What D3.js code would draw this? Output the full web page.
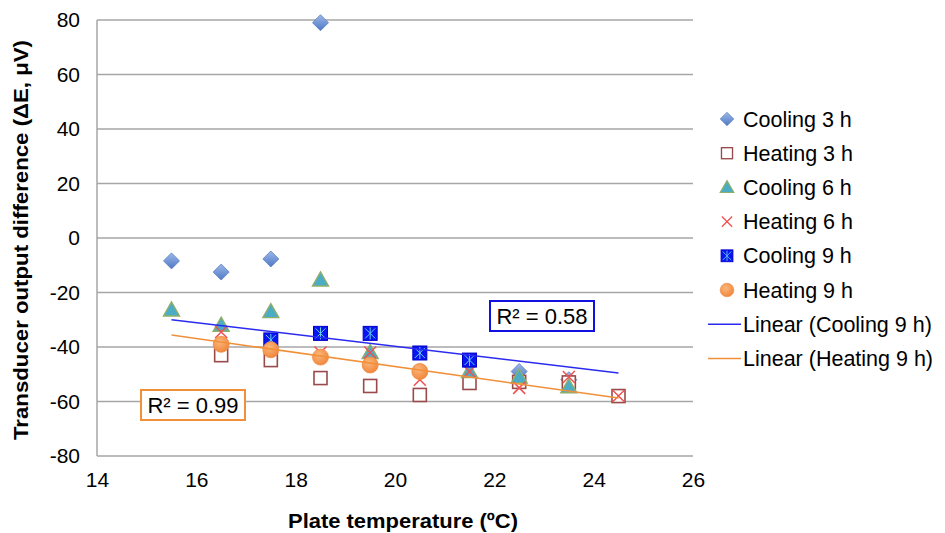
<!DOCTYPE html>
<html><head><meta charset="utf-8">
<script src="https://cdn.jsdelivr.net/npm/d3@7/dist/d3.min.js"></script>
<style>body{margin:0;background:#fff}svg{display:block}</style>
</head><body>
<script>
// ---- data ----
const xTicks = [14,16,18,20,22,24,26];
const yTicks = [80,60,40,20,0,-20,-40,-60,-80];
const cooling3 = [[15.5,-8.4],[16.5,-12.5],[17.5,-7.7],[18.5,79],[22.5,-49],[23.5,-52]];
const heating3 = [[16.5,-43],[17.5,-44.8],[18.5,-51.4],[19.5,-54.3],[20.5,-57.6],[21.5,-53.2],[22.5,-52.8],[23.5,-53],[24.5,-58]];
const cooling6 = [[15.5,-26.4],[16.5,-32],[17.5,-27],[18.5,-15.4],[19.5,-42],[21.5,-49],[22.5,-51],[23.5,-54.6]];
const heating6 = [[16.5,-34.5],[17.5,-38],[18.5,-42],[19.5,-42],[20.5,-52],[21.5,-49],[22.5,-55],[23.5,-51],[24.5,-58]];
const cooling9 = [[17.5,-37.4],[18.5,-35],[19.5,-35],[20.5,-42.2],[21.5,-44.8]];
const heating9 = [[16.5,-39],[17.5,-41],[18.5,-43.7],[19.5,-46.6],[20.5,-49]];
// trend lines: start and end points
const trendCooling9 = [[15.5,-30],[24.5,-49.5]];
const trendHeating9 = [[15.5,-35.6],[24.5,-58.7]];
const r2Labels = ["R² = 0.58","R² = 0.99"];
const legendNames = ["Cooling 3 h","Heating 3 h","Cooling 6 h","Heating 6 h","Cooling 9 h","Heating 9 h","Linear (Cooling 9 h)","Linear (Heating 9 h)"];

const W=945,H=533;
const svg=d3.select("body").append("svg").attr("width",W).attr("height",H);
const defs=svg.append("defs");
const g1=defs.append("linearGradient").attr("id","dia").attr("x1",0).attr("y1",0).attr("x2",0).attr("y2",1);
g1.append("stop").attr("offset","0").attr("stop-color","#9cb8ea");
g1.append("stop").attr("offset","1").attr("stop-color","#4f78c4");
const g2=defs.append("radialGradient").attr("id","circ").attr("cx","0.4").attr("cy","0.35").attr("r","0.7");
g2.append("stop").attr("offset","0").attr("stop-color","#fbb77a");
g2.append("stop").attr("offset","1").attr("stop-color","#f0843a");

const x=d3.scaleLinear().domain([14,26]).range([97,693]);
const y=d3.scaleLinear().domain([-80,80]).range([456,20]);

// gridlines
svg.append("g").selectAll("line").data(yTicks).join("line")
  .attr("x1",x(14)).attr("x2",x(26)).attr("y1",d=>y(d)).attr("y2",d=>y(d))
  .attr("stroke","#a6a6a6").attr("stroke-width",1.5);
svg.append("line").attr("x1",x(14)).attr("x2",x(14)).attr("y1",y(80)).attr("y2",y(-80))
  .attr("stroke","#a6a6a6").attr("stroke-width",1.5);

const font="'Liberation Sans', Arial, sans-serif";
const fmt=d=>String(d);
const yAxis=d3.axisLeft(y).tickValues(yTicks).tickSize(0).tickPadding(17).tickFormat(fmt);
const ya=svg.append("g").attr("transform",`translate(${x(14)},0)`).call(yAxis);
ya.select(".domain").remove();
ya.selectAll("text").attr("font-family",font).attr("font-size",21).attr("fill","#000");
const xAxis=d3.axisBottom(x).tickValues(xTicks).tickSize(0).tickPadding(16).tickFormat(fmt);
const xa=svg.append("g").attr("transform",`translate(0,${y(-80)})`).call(xAxis);
xa.select(".domain").remove();
xa.selectAll("text").attr("font-family",font).attr("font-size",21).attr("fill","#000");

svg.append("text").attr("x",x(20)+8).attr("y",528).attr("text-anchor","middle")
  .attr("font-family",font).attr("font-size",21).attr("font-weight","bold")
  .attr("textLength",230).attr("lengthAdjust","spacingAndGlyphs").text("Plate temperature (ºC)");
svg.append("text").attr("transform",`translate(28,240) rotate(-90)`).attr("text-anchor","middle")
  .attr("font-family",font).attr("font-size",21).attr("font-weight","bold")
  .attr("textLength",400).attr("lengthAdjust","spacingAndGlyphs").text("Transducer output difference (ΔE, μV)");

// marker draw functions
function diamond(sel){sel.append("path").attr("d","M0,-8L8,0L0,8L-8,0Z").attr("fill","url(#dia)").attr("stroke","#5a7fc0").attr("stroke-width",0.8);}
function square(sel){sel.append("rect").attr("x",-6.5).attr("y",-6.5).attr("width",13).attr("height",13).attr("fill","#fff").attr("stroke","#9a4a4a").attr("stroke-width",1.6);}
function triangle(sel){sel.append("path").attr("d","M0,-8L8,6L-8,6Z").attr("fill","#4bacc6").attr("stroke","#8fae6a").attr("stroke-width",1.4);}
function cross(sel){sel.append("path").attr("d","M-6,-6L6,6M6,-6L-6,6").attr("stroke","#f05050").attr("stroke-width",1.5).attr("fill","none");}
function bsquare(sel){sel.append("rect").attr("x",-7).attr("y",-7).attr("width",14).attr("height",14).attr("fill","#0a14f0").attr("stroke","#0000c8").attr("stroke-width",1);
  sel.append("path").attr("d","M0,-6V6M-5,-5L5,5M5,-5L-5,5").attr("stroke","#5fd0e8").attr("stroke-width",1);}
function circle(sel){sel.append("circle").attr("r",8).attr("fill","url(#circ)").attr("stroke","#f08a40").attr("stroke-width",0.8);}

const series=[[cooling3,diamond],[heating3,square],[cooling6,triangle],[heating6,cross],[cooling9,bsquare],[heating9,circle]];
series.forEach(([data,fn])=>{
  svg.append("g").selectAll("g").data(data).join("g")
    .attr("transform",d=>`translate(${x(d[0])},${y(d[1])})`).each(function(){fn(d3.select(this));});
});

// trend lines
const line=d3.line().x(d=>x(d[0])).y(d=>y(d[1]));
svg.append("path").attr("d",line(trendCooling9)).attr("stroke","#2a2af0").attr("stroke-width",1.5).attr("fill","none");
svg.append("path").attr("d",line(trendHeating9)).attr("stroke","#f0903a").attr("stroke-width",1.5).attr("fill","none");

// R2 boxes
function r2box(cx,cy,txt,col){
  const gg=svg.append("g");
  gg.append("rect").attr("x",cx-52).attr("y",cy-15).attr("width",104).attr("height",30).attr("fill","#fff").attr("stroke",col).attr("stroke-width",2);
  gg.append("text").attr("x",cx).attr("y",cy+8).attr("text-anchor","middle").attr("font-family",font).attr("font-size",22).text(txt);
}
r2box(542,316,r2Labels[0],"#1010e0");
r2box(193,405,r2Labels[1],"#f0903a");

// legend
const lg=svg.append("g");
const fns=[diamond,square,triangle,cross,bsquare,circle];
legendNames.forEach((n,i)=>{
  const yy=119+i*34.2;
  const it=lg.append("g").attr("transform",`translate(727,${yy})`);
  if(i<6){
    const m=it.append("g").attr("transform","scale(0.85)");
    fns[i](m);
  } else {
    it.append("line").attr("x1",-19).attr("x2",14).attr("y1",0).attr("y2",0)
      .attr("stroke",i==6?"#2a2af0":"#f0903a").attr("stroke-width",1.5);
  }
  it.append("text").attr("x",16).attr("y",7.5).attr("font-family",font).attr("font-size",21.5).text(n);
});
</script>
</body></html>
